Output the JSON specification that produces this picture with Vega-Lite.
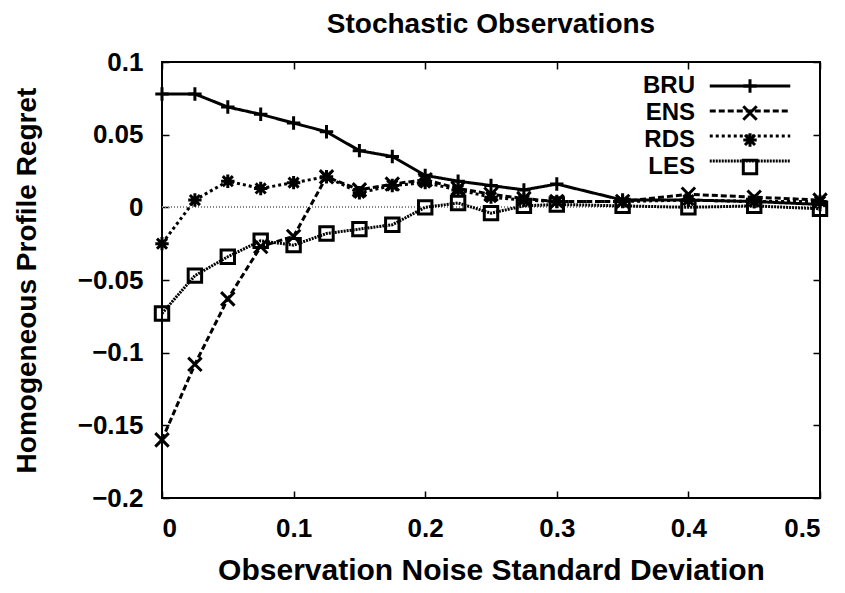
{
  "$schema": "https://vega.github.io/schema/vega-lite/v6.json",
  "autosize": "none",
  "width": 658,
  "height": 436,
  "padding": {"left": 162, "top": 62, "right": 25, "bottom": 95},
  "background": "white",
  "title": {"text": "Stochastic Observations", "font": "Liberation Sans", "fontSize": 28, "fontWeight": "bold", "color": "black", "offset": 10, "anchor": "middle"},
  "config": {
    "view": {"stroke": "black", "strokeWidth": 2},
    "axis": {"grid": false, "domain": false, "labelFont": "Liberation Sans", "labelFontSize": 26, "labelFontWeight": "bold", "labelColor": "black", "titleFont": "Liberation Sans", "titleFontWeight": "bold", "titleColor": "black", "tickColor": "black", "tickWidth": 1.5, "tickSize": -7}
  },
  "resolve": {"axis": {"x": "independent", "y": "independent"}},
  "data": {"values": [
    {"x": 0, "series": "BRU", "y": 0.078}, {"x": 0.025, "series": "BRU", "y": 0.078}, {"x": 0.05, "series": "BRU", "y": 0.069}, {"x": 0.075, "series": "BRU", "y": 0.064}, {"x": 0.1, "series": "BRU", "y": 0.058}, {"x": 0.125, "series": "BRU", "y": 0.052}, {"x": 0.15, "series": "BRU", "y": 0.039}, {"x": 0.175, "series": "BRU", "y": 0.035}, {"x": 0.2, "series": "BRU", "y": 0.022}, {"x": 0.225, "series": "BRU", "y": 0.018}, {"x": 0.25, "series": "BRU", "y": 0.015}, {"x": 0.275, "series": "BRU", "y": 0.012}, {"x": 0.3, "series": "BRU", "y": 0.016}, {"x": 0.35, "series": "BRU", "y": 0.005}, {"x": 0.4, "series": "BRU", "y": 0.005}, {"x": 0.45, "series": "BRU", "y": 0.004}, {"x": 0.5, "series": "BRU", "y": 0.002},
    {"x": 0, "series": "ENS", "y": -0.160}, {"x": 0.025, "series": "ENS", "y": -0.108}, {"x": 0.05, "series": "ENS", "y": -0.063}, {"x": 0.075, "series": "ENS", "y": -0.027}, {"x": 0.1, "series": "ENS", "y": -0.020}, {"x": 0.125, "series": "ENS", "y": 0.021}, {"x": 0.15, "series": "ENS", "y": 0.012}, {"x": 0.175, "series": "ENS", "y": 0.016}, {"x": 0.2, "series": "ENS", "y": 0.019}, {"x": 0.225, "series": "ENS", "y": 0.013}, {"x": 0.25, "series": "ENS", "y": 0.009}, {"x": 0.275, "series": "ENS", "y": 0.006}, {"x": 0.3, "series": "ENS", "y": 0.004}, {"x": 0.35, "series": "ENS", "y": 0.004}, {"x": 0.4, "series": "ENS", "y": 0.009}, {"x": 0.45, "series": "ENS", "y": 0.007}, {"x": 0.5, "series": "ENS", "y": 0.005},
    {"x": 0, "series": "RDS", "y": -0.025}, {"x": 0.025, "series": "RDS", "y": 0.005}, {"x": 0.05, "series": "RDS", "y": 0.018}, {"x": 0.075, "series": "RDS", "y": 0.013}, {"x": 0.1, "series": "RDS", "y": 0.017}, {"x": 0.125, "series": "RDS", "y": 0.021}, {"x": 0.15, "series": "RDS", "y": 0.010}, {"x": 0.175, "series": "RDS", "y": 0.015}, {"x": 0.2, "series": "RDS", "y": 0.017}, {"x": 0.225, "series": "RDS", "y": 0.012}, {"x": 0.25, "series": "RDS", "y": 0.007}, {"x": 0.275, "series": "RDS", "y": 0.005}, {"x": 0.3, "series": "RDS", "y": 0.004}, {"x": 0.35, "series": "RDS", "y": 0.004}, {"x": 0.4, "series": "RDS", "y": 0.005}, {"x": 0.45, "series": "RDS", "y": 0.004}, {"x": 0.5, "series": "RDS", "y": 0.004},
    {"x": 0, "series": "LES", "y": -0.073}, {"x": 0.025, "series": "LES", "y": -0.047}, {"x": 0.05, "series": "LES", "y": -0.034}, {"x": 0.075, "series": "LES", "y": -0.023}, {"x": 0.1, "series": "LES", "y": -0.026}, {"x": 0.125, "series": "LES", "y": -0.018}, {"x": 0.15, "series": "LES", "y": -0.015}, {"x": 0.175, "series": "LES", "y": -0.012}, {"x": 0.2, "series": "LES", "y": 0.000}, {"x": 0.225, "series": "LES", "y": 0.003}, {"x": 0.25, "series": "LES", "y": -0.004}, {"x": 0.275, "series": "LES", "y": 0.001}, {"x": 0.3, "series": "LES", "y": 0.002}, {"x": 0.35, "series": "LES", "y": 0.001}, {"x": 0.4, "series": "LES", "y": 0.000}, {"x": 0.45, "series": "LES", "y": 0.001}, {"x": 0.5, "series": "LES", "y": -0.001}
  ]},
  "encoding": {
    "x": {"field": "x", "type": "quantitative", "scale": {"domain": [0, 0.5], "nice": false}, "axis": {"title": "Observation Noise Standard Deviation", "titleFontSize": 30, "values": [0, 0.1, 0.2, 0.3, 0.4, 0.5], "format": "~g", "labelPadding": 24, "titlePadding": 14}},
    "y": {"field": "y", "type": "quantitative", "scale": {"domain": [-0.2, 0.1], "nice": false}, "axis": {"title": "Homogeneous Profile Regret", "titleFontSize": 28, "values": [-0.2, -0.15, -0.1, -0.05, 0, 0.05, 0.1], "format": "~g", "labelPadding": 26, "titlePadding": 36}}
  },
  "layer": [
    {
      "mark": {"type": "rule", "color": "#888888", "strokeWidth": 1, "strokeDash": [1, 2]},
      "encoding": {"x": {"datum": 0, "axis": null}, "x2": {"datum": 0.5}, "y": {"datum": 0, "axis": null}}
    },
    {
      "mark": {"type": "line", "color": "black", "strokeWidth": 3},
      "encoding": {
        "detail": {"field": "series"},
        "strokeDash": {"field": "series", "type": "nominal", "scale": {"domain": ["LES", "RDS", "ENS", "BRU"], "range": [[2, 1], [3, 3], [6, 3], [1, 0]]},
          "legend": {"title": null, "orient": "none", "legendX": 576, "legendY": 12, "values": ["BRU", "ENS", "RDS", "LES"], "symbolType": "M-6,0L6,0", "symbolSize": 180, "symbolStrokeWidth": 3, "symbolStrokeColor": "black", "labelFontSize": 24, "labelOpacity": 0, "rowPadding": 1, "symbolOffset": 0}}
      }
    },
    {
      "mark": {"type": "point", "filled": false, "color": "black", "strokeWidth": 3, "size": 180, "opacity": 1},
      "encoding": {
        "x": {"field": "x", "type": "quantitative", "axis": {"orient": "top", "labels": false, "title": null, "values": [0, 0.1, 0.2, 0.3, 0.4, 0.5]}},
        "y": {"field": "y", "type": "quantitative", "axis": {"orient": "right", "labels": false, "title": null, "values": [-0.2, -0.15, -0.1, -0.05, 0, 0.05, 0.1]}},
        "shape": {"field": "series", "type": "nominal", "scale": {"domain": ["BRU", "ENS", "RDS", "LES"], "range": ["M-1,0L1,0M0,-1L0,1", "M-1,-1L1,1M1,-1L-1,1", "M-1,0L1,0M0,-1L0,1M-0.75,-0.75L0.75,0.75M0.75,-0.75L-0.75,0.75", "square"]},
          "legend": {"title": null, "orient": "none", "legendX": 576, "legendY": 12, "labelAlign": "right", "labelOffset": -67, "labelFont": "Liberation Sans", "labelFontSize": 24, "labelFontWeight": "bold", "labelColor": "black", "symbolStrokeWidth": 3, "symbolStrokeColor": "black", "symbolSize": 180, "rowPadding": 1, "symbolOffset": 0}}
      }
    }
  ]
}
